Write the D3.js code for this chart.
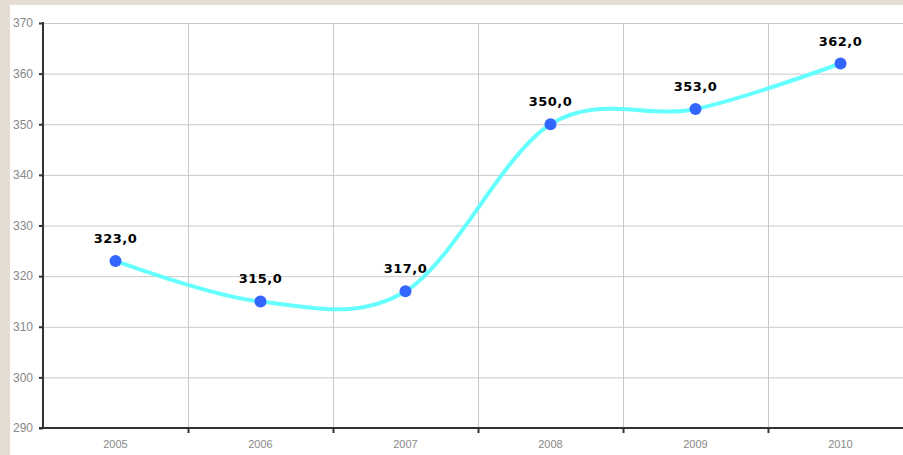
<!DOCTYPE html>
<html>
<head>
<meta charset="utf-8">
<script src="https://d3js.org/d3.v7.min.js"></script>
<style>
  body { margin: 0; background: #e5ddd3; }
  svg { display: block; }
</style>
</head>
<body>
<div id="chart"></div>
<script>
// data
var years = ["2005", "2006", "2007", "2008", "2009", "2010"];
var values = [323, 315, 317, 350, 353, 362];
var yTicks = [290, 300, 310, 320, 330, 340, 350, 360, 370];

var svgWidth = 903;
var svgHeight = 455;

var svg = d3.select("#chart")
  .append("svg")
  .attr("width", svgWidth)
  .attr("height", svgHeight);

// white panel
svg.append("rect")
  .attr("x", 10)
  .attr("y", 5)
  .attr("width", svgWidth - 10)
  .attr("height", svgHeight - 5)
  .attr("fill", "#ffffff");

var plot = { left: 43, right: 913, top: 23, bottom: 428 };

var xScale = d3.scaleBand()
  .domain(years)
  .range([plot.left, plot.right]);

var yScale = d3.scaleLinear()
  .domain([290, 370])
  .range([plot.bottom, plot.top]);

// horizontal grid
svg.append("g")
  .selectAll("line")
  .data(yTicks.slice(1))
  .enter()
  .append("line")
  .attr("x1", plot.left)
  .attr("x2", svgWidth)
  .attr("y1", d => yScale(d) + 0.5)
  .attr("y2", d => yScale(d) + 0.5)
  .attr("stroke", "#c8c8c8")
  .attr("stroke-width", 1);

// vertical grid at category boundaries
svg.append("g")
  .selectAll("line")
  .data(years.slice(1))
  .enter()
  .append("line")
  .attr("x1", d => xScale(d) + 0.5)
  .attr("x2", d => xScale(d) + 0.5)
  .attr("y1", plot.top)
  .attr("y2", plot.bottom)
  .attr("stroke", "#c8c8c8")
  .attr("stroke-width", 1);

// y axis
var yAxis = svg.append("g")
  .attr("transform", `translate(${plot.left}, 0)`)
  .call(d3.axisLeft(yScale).tickValues(yTicks).tickSize(4).tickPadding(6).tickFormat(d3.format("d")));
yAxis.select(".domain").remove();
yAxis.selectAll(".tick line").attr("stroke", "#333").attr("stroke-width", 2);
yAxis.selectAll("text")
  .attr("fill", "#888")
  .style("font-family", "Liberation Sans, Arial, sans-serif")
  .style("font-size", "12px");

svg.append("line")
  .attr("x1", plot.left).attr("x2", plot.left)
  .attr("y1", plot.top - 1).attr("y2", plot.bottom + 1)
  .attr("stroke", "#333").attr("stroke-width", 2);

// x axis
svg.append("line")
  .attr("x1", plot.left - 4).attr("x2", svgWidth)
  .attr("y1", plot.bottom).attr("y2", plot.bottom)
  .attr("stroke", "#333").attr("stroke-width", 2);

svg.append("g")
  .selectAll("line")
  .data(years.slice(1))
  .enter()
  .append("line")
  .attr("x1", d => xScale(d) + 0.5)
  .attr("x2", d => xScale(d) + 0.5)
  .attr("y1", plot.bottom)
  .attr("y2", plot.bottom + 5)
  .attr("stroke", "#333")
  .attr("stroke-width", 2);

svg.append("g")
  .selectAll("text")
  .data(years)
  .enter()
  .append("text")
  .attr("x", d => xScale(d) + xScale.bandwidth() / 2)
  .attr("y", plot.bottom + 20)
  .attr("text-anchor", "middle")
  .attr("fill", "#888")
  .style("font-family", "Liberation Sans, Arial, sans-serif")
  .style("font-size", "11px")
  .text(d => d);

// smooth line
var pts = years.map((y, i) => [xScale(y) + xScale.bandwidth() / 2, yScale(values[i])]);

var line = d3.line()
  .curve(d3.curveCardinal.tension(0));

svg.append("path")
  .attr("d", line(pts))
  .attr("fill", "none")
  .attr("stroke", "#66ffff")
  .attr("stroke-width", 4);

// points
svg.append("g")
  .selectAll("circle")
  .data(pts)
  .enter()
  .append("circle")
  .attr("cx", d => d[0])
  .attr("cy", d => d[1])
  .attr("r", 6)
  .attr("fill", "#3366ff");

// value labels
svg.append("g")
  .selectAll("text")
  .data(pts)
  .enter()
  .append("text")
  .attr("x", d => d[0])
  .attr("y", d => d[1] - 18)
  .attr("text-anchor", "middle")
  .attr("fill", "#000")
  .style("font-family", "DejaVu Sans, Verdana, sans-serif")
  .style("font-weight", "bold")
  .style("font-size", "13px")
  .style("letter-spacing", "0.5px")
  .text((d, i) => values[i].toFixed(1).replace(".", ","));
</script>
</body>
</html>
